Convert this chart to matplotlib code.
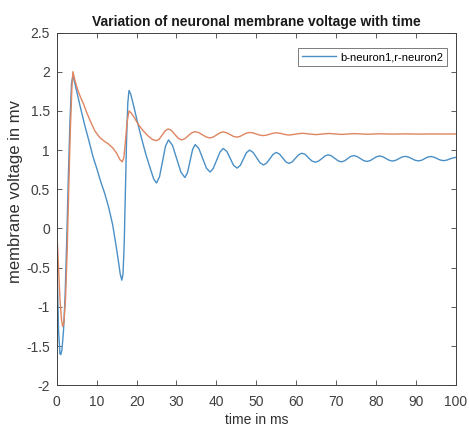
import numpy as np
import matplotlib.pyplot as plt

plt.rcParams['font.family'] = ['Liberation Sans', 'DejaVu Sans']
plt.rcParams['axes.unicode_minus'] = False

# neuron 1 (blue)
t1 = [0, 0.2, 0.45, 0.8, 1.0, 1.3, 1.7, 2.1, 2.5, 2.9, 3.3, 3.7, 4.05,
      4.5, 5, 6, 7, 8, 9, 10, 11, 12, 13, 14, 14.8, 15.4, 15.9, 16.3, 16.6, 16.9,
      17.2, 17.5, 17.8, 18.1, 18.5, 19, 19.6, 20.4, 21.3, 22.3, 23.4, 24.3,
      25.0, 25.75, 26.5, 27.25, 28.0, 29.0, 30.05, 31.1,
      32.1, 32.75, 33.4, 34.05, 34.7, 35.6, 36.55, 37.5,
      38.4, 39.2, 40.05, 40.9, 41.7, 42.6, 43.45, 44.3,
      45.2, 46.0, 46.75, 47.5, 48.3, 49.2, 50.05, 50.9,
      51.8, 52.6, 53.4, 54.2, 55.0, 55.8, 56.6, 57.4,
      58.2, 59.0, 59.8, 60.6, 61.4, 62.25, 63.1, 63.95,
      64.8, 65.6, 66.4, 67.2, 68.0, 68.8, 69.65, 70.5,
      71.3, 72.1, 72.85, 73.6, 74.4, 75.2, 76.05, 76.9,
      77.7, 78.5, 79.3, 80.1, 80.9, 81.7, 82.5, 83.3,
      84.1, 84.9, 85.7, 86.5, 87.3, 88.1, 88.95, 89.8,
      90.6, 91.4, 92.15, 92.9, 93.7, 94.5, 95.3, 96.1,
      96.9, 97.7, 98.5, 99.3, 100]
v1 = [0, -0.75, -1.3, -1.6, -1.61, -1.55, -1.3, -0.85, -0.15, 0.65, 1.35, 1.85, 1.95,
      1.86, 1.75, 1.53, 1.32, 1.13, 0.93, 0.77, 0.6, 0.45, 0.27, 0.05, -0.2, -0.4, -0.58, -0.66, -0.58, -0.2,
      0.45, 1.15, 1.6, 1.76, 1.72, 1.62, 1.49, 1.32, 1.14, 0.95, 0.77, 0.63,
      0.58, 0.66, 0.855, 1.05, 1.13, 1.06, 0.89, 0.72,
      0.65, 0.71, 0.86, 1.01, 1.07, 1.02, 0.895, 0.77,
      0.72, 0.765, 0.87, 0.975, 1.02, 0.985, 0.895, 0.805,
      0.77, 0.805, 0.885, 0.965, 1.0, 0.97, 0.905, 0.84,
      0.81, 0.835, 0.89, 0.945, 0.97, 0.95, 0.90, 0.85,
      0.83, 0.85, 0.895, 0.94, 0.96, 0.945, 0.90, 0.86,
      0.845, 0.86, 0.89, 0.925, 0.94, 0.927, 0.895, 0.863,
      0.85, 0.862, 0.89, 0.918, 0.93, 0.919, 0.893, 0.866,
      0.855, 0.865, 0.89, 0.915, 0.925, 0.915, 0.893, 0.87,
      0.86, 0.869, 0.89, 0.911, 0.92, 0.912, 0.891, 0.87,
      0.862, 0.87, 0.89, 0.91, 0.918, 0.91, 0.892, 0.873,
      0.865, 0.872, 0.887, 0.9, 0.907]

# neuron 2 (orange)
t2 = [0, 0.4, 0.8, 1.2, 1.5, 1.8, 2.2, 2.6, 3.0, 3.4, 3.8, 4.05,
      4.6, 5.3, 6.0, 6.7, 7.5, 8.5, 9.6, 10.8, 12.0, 12.9, 14.0, 15.0, 15.8,
      16.4, 16.8, 17.2, 17.6, 18.1, 18.7, 19.5, 20.4, 21.6, 22.9, 24.0,
      25.0, 25.7, 26.45, 27.2, 27.9, 28.75, 29.6, 30.45,
      31.3, 32.1, 32.95, 33.8, 34.6, 35.55, 36.5, 37.45,
      38.4, 39.2, 40.05, 40.9, 41.7, 42.55, 43.4, 44.25,
      45.1, 45.9, 46.7, 47.5, 48.3, 49.15, 50.0, 50.85,
      51.7, 52.5, 53.35, 54.2, 55.0, 55.8, 56.65, 57.5,
      58.3, 59.9, 61.5, 63.2, 64.9, 66.5, 68.1, 69.75, 71.4, 73.0,
      74.5, 76.2, 77.8, 79.4, 81, 84.3, 87.5, 90.8, 94, 97.2, 100]
v2 = [0, -0.45, -0.9, -1.17, -1.25, -1.2, -0.9, -0.3, 0.5, 1.25, 1.8, 2.0,
      1.88, 1.76, 1.67, 1.59, 1.48, 1.36, 1.24, 1.16, 1.11, 1.08, 1.03, 0.96, 0.88,
      0.85, 0.9, 1.1, 1.35, 1.50, 1.47, 1.41, 1.33, 1.25, 1.18, 1.135,
      1.12, 1.142, 1.195, 1.248, 1.27, 1.25, 1.2, 1.15,
      1.13, 1.145, 1.183, 1.22, 1.235, 1.223, 1.195, 1.167,
      1.155, 1.166, 1.194, 1.221, 1.232, 1.222, 1.199, 1.175,
      1.165, 1.174, 1.195, 1.216, 1.225, 1.219, 1.205, 1.191,
      1.185, 1.19, 1.203, 1.215, 1.22, 1.216, 1.206, 1.196,
      1.192, 1.204, 1.215, 1.206, 1.197, 1.205, 1.212, 1.206, 1.2, 1.205,
      1.21, 1.206, 1.202, 1.205, 1.208, 1.204, 1.207, 1.204, 1.206, 1.205, 1.206]

xticks = np.arange(0, 101, 10)
yticks = np.arange(-2, 2.51, 0.5)

fig = plt.figure(figsize=(4.69, 4.28), dpi=100)
ax = fig.add_axes([0.121, 0.100, 0.851, 0.824])

ax.plot(t1, v1, color='#4a8fc6', lw=1.0, label='b-neuron1,r-neuron2')
ax.plot(t2, v2, color='#df8560', lw=1.0)

ax.set_xlim(0, 100)
ax.set_ylim(-2, 2.5)
ax.set_xticks(xticks)
ax.set_yticks(yticks)
ax.set_yticklabels(['%g' % y for y in yticks])

ax.tick_params(direction='in', top=True, right=True, length=3.5, width=0.6,
               labelsize=10, colors='#404040', pad=5)
ax.tick_params(axis='x', pad=7)
for s in ax.spines.values():
    s.set_color('#404040')
    s.set_linewidth(0.7)

ax.set_title('Variation of neuronal membrane voltage with time',
             fontsize=10, fontweight='bold', color='#1a1a1a', pad=5)
ax.set_xlabel('time in ms', fontsize=10, color='#303030', labelpad=3)
ax.set_ylabel('membrane voltage in mv', fontsize=12, color='#303030')
ax.yaxis.set_label_coords(-0.085, 0.55)

leg = ax.legend(loc='upper right', bbox_to_anchor=(0.977, 0.955), borderaxespad=0,
                fontsize=8, frameon=True, fancybox=False, handlelength=3.1,
                borderpad=0.35, handletextpad=0.3)
leg.get_frame().set_edgecolor('#404040')
leg.get_frame().set_linewidth(0.6)

fig.savefig('out.png', dpi=100)
